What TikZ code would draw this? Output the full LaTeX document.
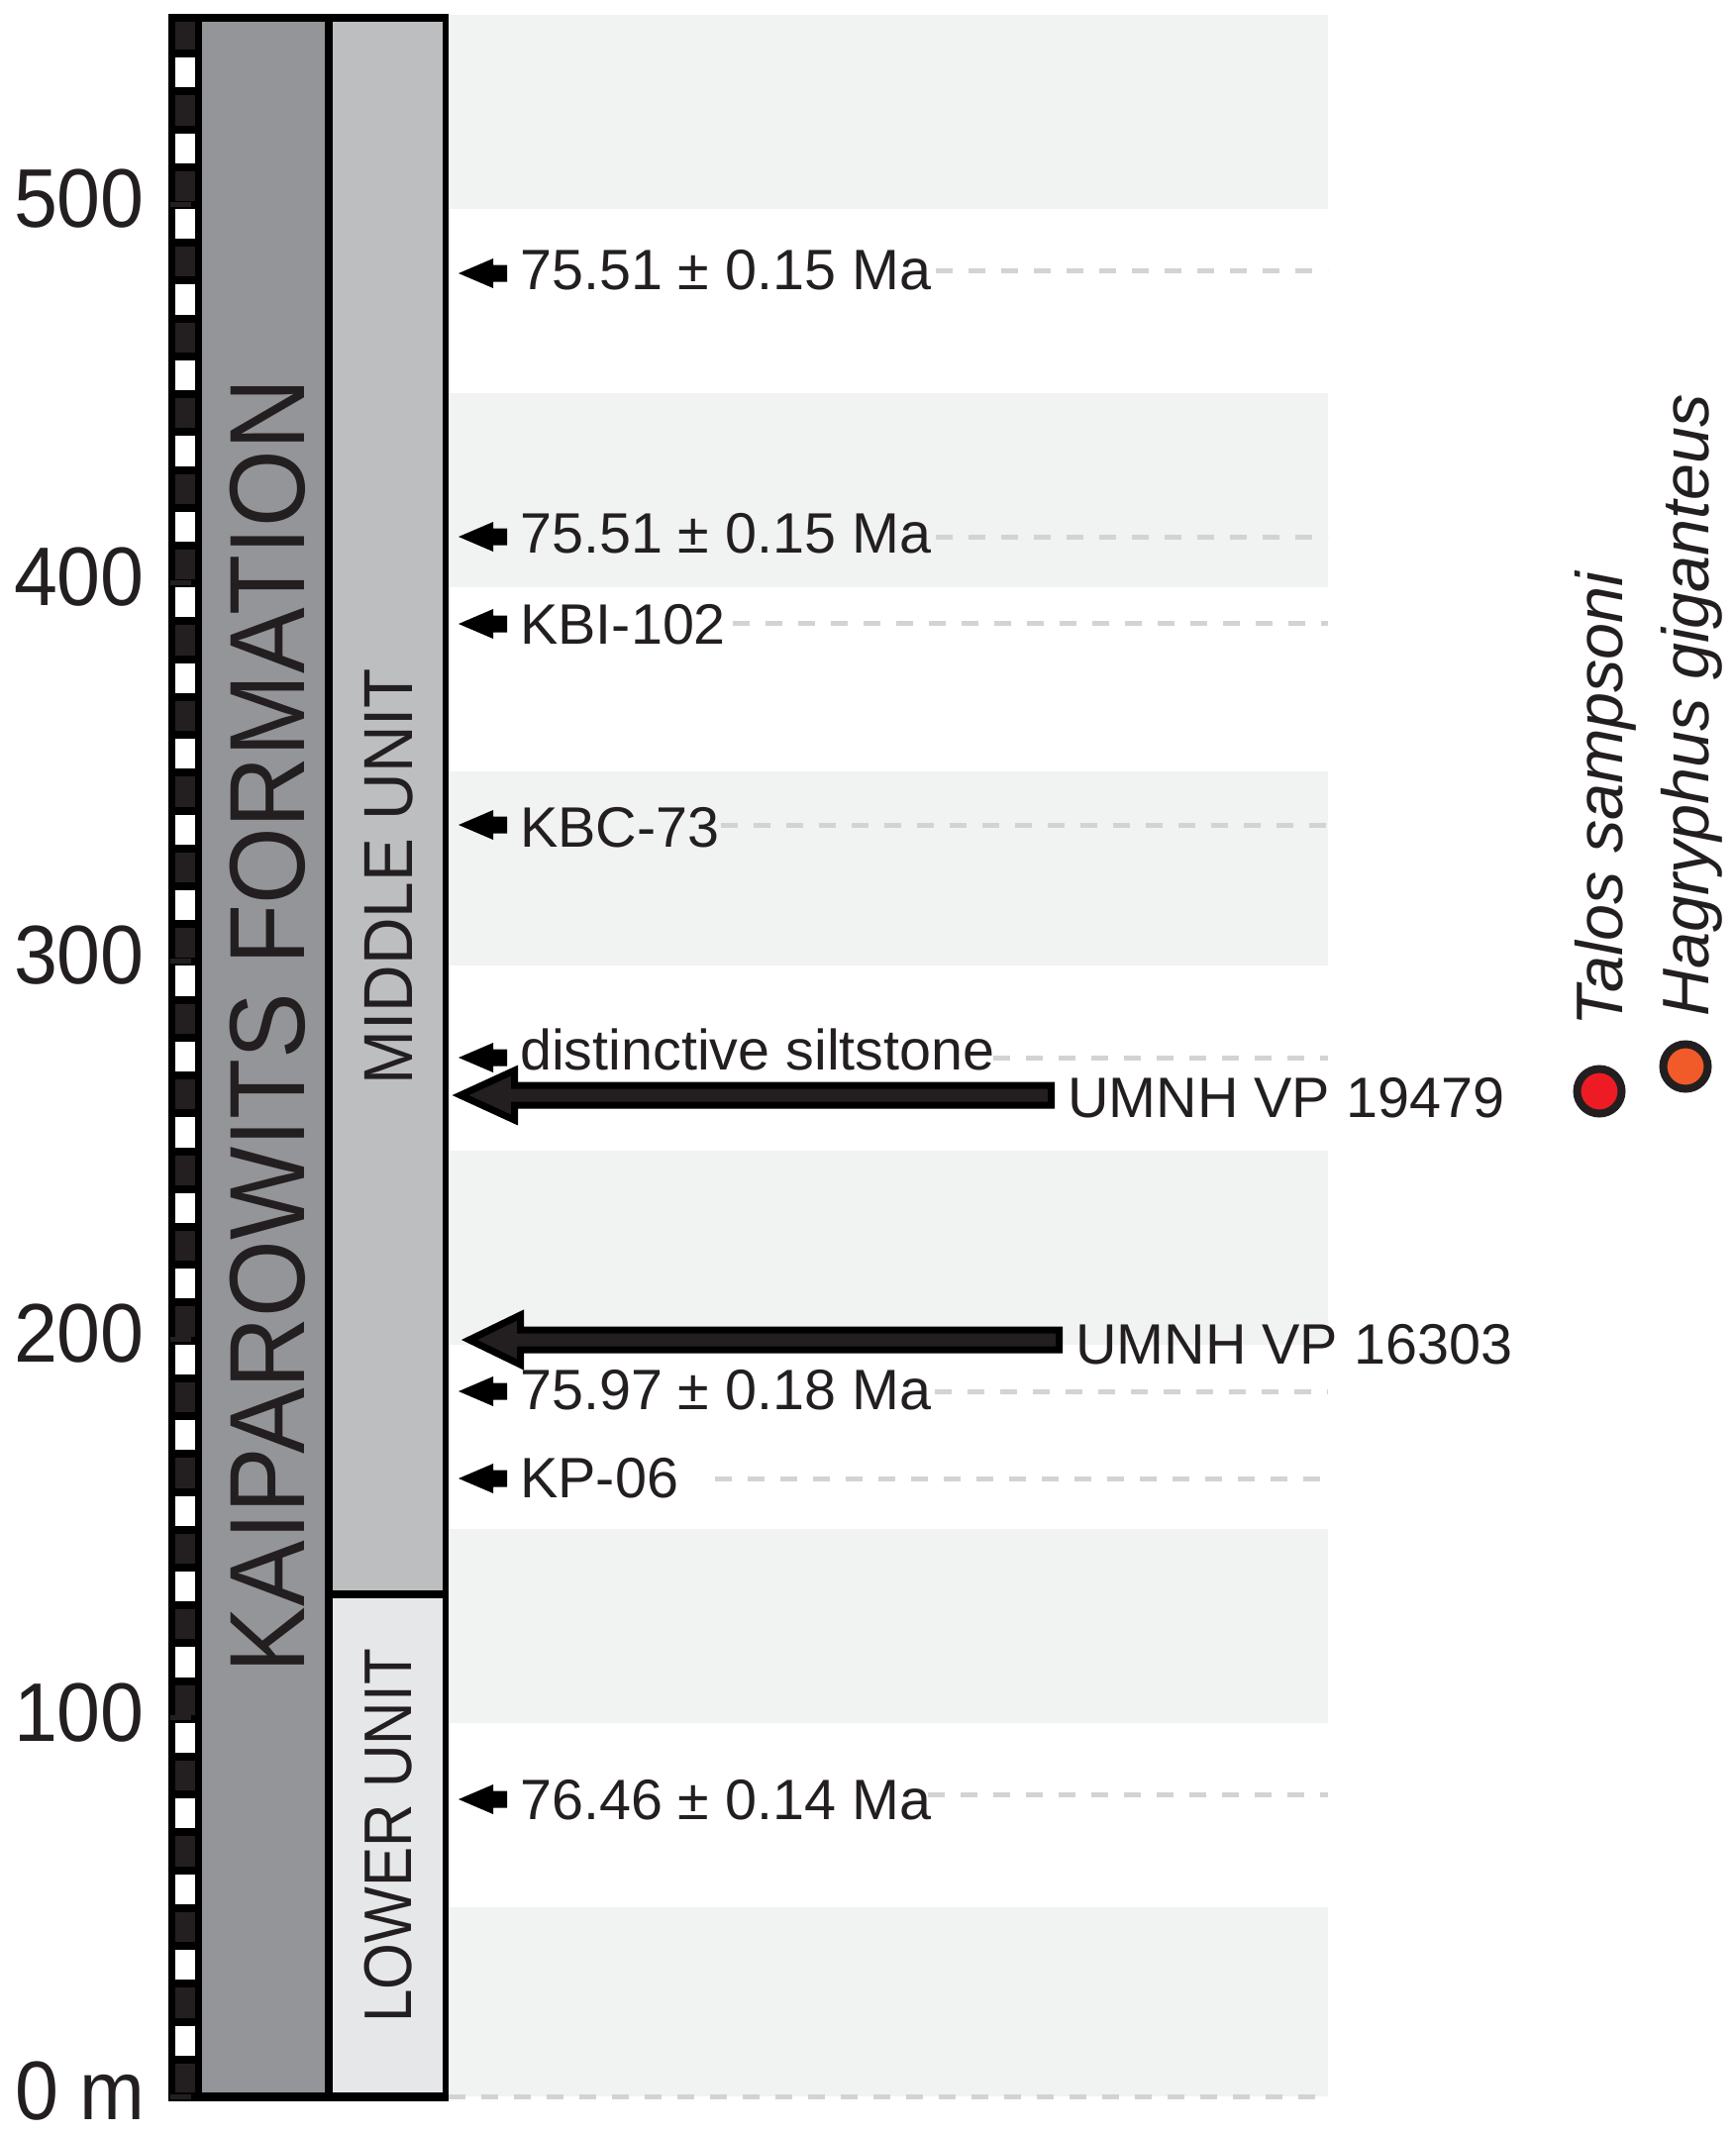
\documentclass[tikz,border=0pt]{standalone}
\usepackage{fontspec}
\setmainfont{Liberation Sans}
\usepackage{graphicx}
\definecolor{txt}{HTML}{231F20}
\definecolor{darkcol}{HTML}{939598}
\definecolor{midcol}{HTML}{BCBEC0}
\definecolor{lowcol}{HTML}{E6E7E8}
\definecolor{bandc}{HTML}{F1F2F2}
\definecolor{dashc}{HTML}{D1D3D4}
\definecolor{talosred}{HTML}{ED1C24}
\definecolor{hagorange}{HTML}{F15A29}
\newcommand\fsz[1]{\fontsize{#1}{#1}\selectfont}
\tikzset{
  datelabel/.style={anchor=base west, inner sep=0pt, text=txt, font=\fsz{57.5}},
  axisnum/.style={anchor=base east, inner sep=0pt, text=txt, font=\fsz{84}},
  umnh/.style={anchor=base west, inner sep=0pt, text=txt, font=\fsz{57.5}},
  dashline/.style={draw=dashc, line width=5pt, dash pattern=on 17pt off 16pt},
  bigarrow/.style={fill=txt, draw=black, line width=7pt, line join=miter},
  unitlabel/.style={rotate=90, inner sep=0pt, text=txt},
  legtext/.style={rotate=90, anchor=base west, inner sep=0pt, text=txt, font=\fsz{66.5}\itshape},
  legdot/.style={circle, draw=txt, line width=8pt, minimum size=45pt, inner sep=0pt},
}
\begin{document}
\begin{tikzpicture}[x=1pt,y=-1pt]
\useasboundingbox (0,0) rectangle (1753,2156);
% grey bands (every other 50 m)
\foreach \m in {0,100,...,500}{
  \fill[bandc] (453,{2117-3.822*(\m+50)}) rectangle (1341,{min(2117-3.822*\m+5,2117)});
}
% dashed reference lines
\draw[dashline] (453,2117) -- (1341,2117);
\foreach \n/\ay/\ly/\by/\dx/\lab in {
  d1/276/273/292/945/75.51 ± 0.15 Ma,
  d2/542/542/558/945/75.51 ± 0.15 Ma,
  d3/630/629/650/740/KBI-102,
  d4/833/833/855/728/KBC-73,
  d5/1068/1068/1080/1003/distinctive siltstone,
  d6/1405/1405/1423/944/75.97 ± 0.18 Ma,
  d7/1493/1493/1512/722/KP-06,
  d8/1817/1812/1837/937/76.46 ± 0.14 Ma}{
  \draw[dashline] (\dx,\ly) -- (1341,\ly);
  \coordinate (\n) at (463,\ay);
  \fill[black] (\n) -- ++(35,-15) -- ++(0,6.5) -- ++(14,0) -- ++(0,17) -- ++(-14,0) -- ++(0,6.5) -- cycle;
  \node[datelabel] (\n-t) at (525,\by) {\lab};
}
% column
\fill[black] (170,14) rectangle (453,2122);
\fill[darkcol] (204,22) rectangle (328,2113);
\fill[midcol] (336,22) rectangle (447,1606);
\fill[lowcol] (336,1614) rectangle (447,2113);
% checker scale
\foreach \k in {0,...,54}{
  \pgfmathsetmacro\ya{max(2117-38.22*(\k+1)+5,22)}
  \pgfmathsetmacro\yb{min(2117-38.22*\k-3,2113)}
  \pgfmathtruncatemacro\kk{mod(\k,2)}
  \ifnum\kk=0
    \fill[txt] (177,\ya) rectangle (197,\yb);
  \else
    \fill[white] (177,\ya) rectangle (197,\yb);
  \fi
}
% ticks
\foreach \m in {0,100,...,500}{
  \draw[txt, line width=5pt] (172,{2117-3.822*\m}) -- (193,{2117-3.822*\m});
}
% axis numbers
\node[axisnum] (n500) at (146,229) {\scalebox{0.94}[1]{500}};
\node[axisnum] (n400) at (146,611) {\scalebox{0.94}[1]{400}};
\node[axisnum] (n300) at (146,993) {\scalebox{0.94}[1]{300}};
\node[axisnum] (n200) at (146,1375) {\scalebox{0.94}[1]{200}};
\node[axisnum] (n100) at (146,1758) {\scalebox{0.94}[1]{100}};
\node[axisnum] (n0) at (147,2140) {\scalebox{0.94}[1]{0 m}};
% unit labels
\node[unitlabel, font=\fsz{108}] (kf) at (270,1036) {\scalebox{0.925}[1]{KAIPAROWITS FORMATION}};
\node[unitlabel, font=\fsz{70}] (mu) at (393,885) {\scalebox{0.94}[1]{MIDDLE UNIT}};
\node[unitlabel, font=\fsz{68}] (lu) at (392,1854) {\scalebox{0.885}[1]{LOWER UNIT}};
% specimen arrows
\node[umnh] (u1) at (1078,1128) {UMNH VP 19479};
\node[umnh] (u2) at (1086,1377) {UMNH VP 16303};
\coordinate (b1) at (465,1106);
\coordinate (b2) at (474,1353);
\draw[bigarrow] (b1) -- ++(54.5,-25) -- ++(0,15) -- ++(542,0) -- ++(0,20) -- ++(-542,0) -- ++(0,15) -- cycle;
\draw[bigarrow] (b2) -- ++(51.5,-25) -- ++(0,15) -- ++(544,0) -- ++(0,20) -- ++(-544,0) -- ++(0,15) -- cycle;
% legend
\node[legdot, fill=talosred] (talosdot) at (1615,1102) {};
\node[legdot, fill=hagorange] (hagdot) at (1702,1077) {};
\node[legtext] (talos) at (1638,1037) {Talos sampsoni};
\node[legtext] (hag) at (1725,1027) {Hagryphus giganteus};
\end{tikzpicture}
\end{document}
